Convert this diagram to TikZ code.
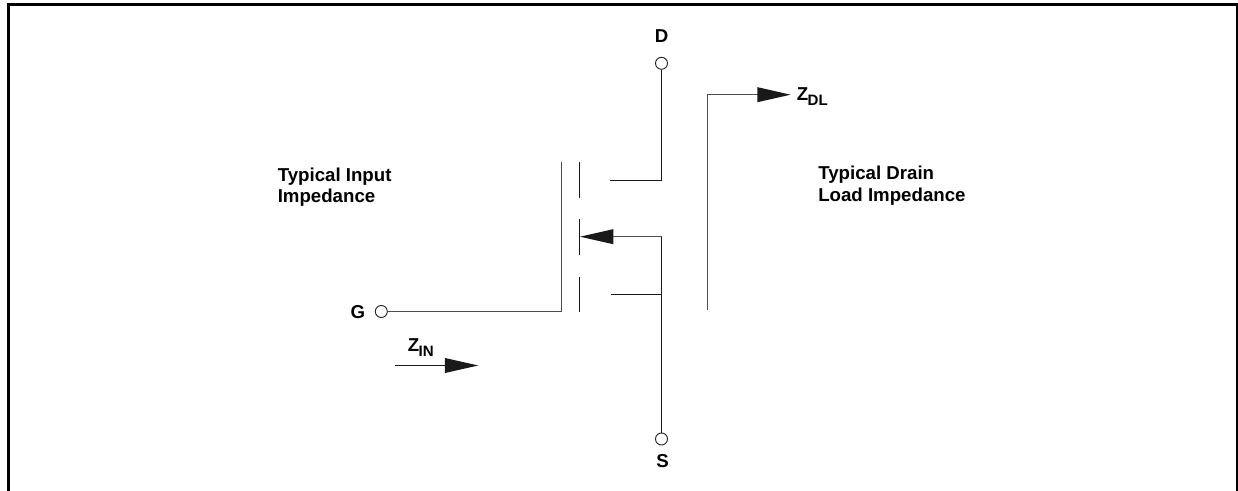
\documentclass[tikz,border=0pt]{standalone}
\usepackage{fontspec}
\setmainfont{Liberation Sans}
\usetikzlibrary{arrows.meta}
\tikzset{
  x=0.75pt,y=-0.75pt,
  wire/.style={draw=black!90,line width=0.95pt},
  softwire/.style={draw=black!70,line width=1.2pt},
  pin/.style={circle,draw=black!85,line width=0.7pt,fill=white,minimum size=9pt,inner sep=0pt},
  lbl/.style={font=\bfseries\fontsize{14pt}{16pt}\selectfont,inner sep=0pt,align=left},
  tipshape/.style={-{Triangle[length=25pt,width=11pt,color=black!90]}},
}
\newcommand{\subtxt}[1]{\raisebox{-3.7pt}{\fontsize{11.3pt}{13pt}\selectfont\kern-0.4pt #1}}
\begin{document}
\begin{tikzpicture}
\useasboundingbox (0,0) rectangle (1238,491);
\draw[line width=2.25pt,line cap=butt] (8.5,491) -- (8.5,4.5) -- (1237,4.5) -- (1237,491);
% pins
\node[pin] (D) at (661.5,63.3) {};
\node[pin] (S) at (661.5,439) {};
\node[pin] (G) at (381.3,311.5) {};
\node[lbl,anchor=base] (Dl) at (661.5,43) {D};
\node[lbl,anchor=base] (Sl) at (662.5,467.5) {S};
\node[lbl,anchor=base] (Gl) at (358,318.5) {G};
% coordinates
\coordinate (dj) at (661.5,180.5);
\coordinate (de) at (610.3,180.5);
\coordinate (gt) at (561.5,162.5);
\coordinate (gb) at (561.5,311.5);
\coordinate (c1a) at (579.5,162.3);
\coordinate (c1b) at (579.5,198.3);
\coordinate (c2a) at (579.5,219);
\coordinate (c2b) at (579.5,255);
\coordinate (c3a) at (579.5,276.7);
\coordinate (c3b) at (579.5,312);
\coordinate (sj) at (661.5,236.7);
\coordinate (st) at (580,236.7);
\coordinate (lj) at (661.5,294.5);
\coordinate (le) at (611,294.5);
\coordinate (zb) at (707.5,310);
\coordinate (zc) at (707.5,94.7);
\coordinate (zt) at (790.7,94.7);
\coordinate (ia) at (395,365.5);
\coordinate (ib) at (478.3,365.5);
% wires
\draw[wire] (D) -- (dj) -- (de);
\draw[softwire] (G) -- (gb) -- (gt);
\draw[wire] (c1a) -- (c1b);
\draw[wire] (c2a) -- (c2b);
\draw[wire] (c3a) -- (c3b);
\draw[softwire,tipshape] (sj) -- (st);
\draw[wire] (sj) -- (S);
\draw[wire] (le) -- (lj);
\draw[softwire,tipshape] (zb) -- (zc) -- (zt);
\draw[wire,tipshape] (ia) -- (ib);
% labels
\node[lbl,anchor=base west] (zdl) at (796.5,101) {Z\subtxt{DL}};
\node[lbl,anchor=base west] (zin) at (407.5,351.5) {Z\subtxt{IN}};
\node[lbl,anchor=north west] (ti) at (277.5,167.5) {Typical Input\\Impedance};
\node[lbl,anchor=north west] (td) at (818,166) {Typical Drain\\Load Impedance};
\end{tikzpicture}
\end{document}
